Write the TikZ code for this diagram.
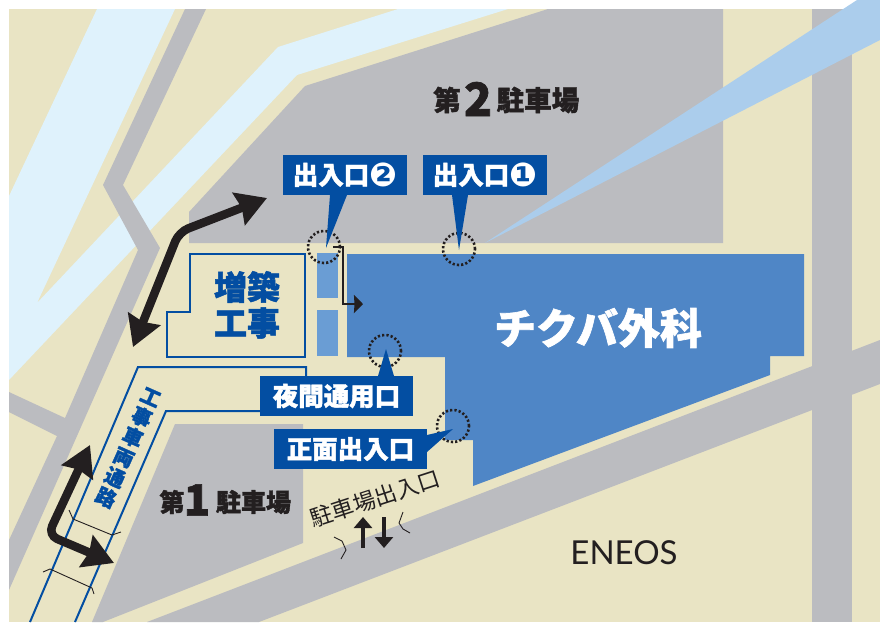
\documentclass[tikz,border=0pt]{standalone}
\usepackage{fontspec}
\usetikzlibrary{arrows.meta}
\newfontfamily\jp{Noto Sans CJK JP}[BoldFeatures={FakeBold=1.5}]
\newfontfamily\djv{DejaVu Sans}
\newfontfamily\latof{Lato}
\newcommand{\fsz}[1]{\fontsize{#1}{#1}\selectfont}
\definecolor{beige}{HTML}{E9E4C4}
\definecolor{water}{HTML}{DFF2FC}
\definecolor{roadg}{HTML}{BBBCC0}
\definecolor{stream}{HTML}{ABCDEC}
\definecolor{bldg}{HTML}{4F86C6}
\definecolor{annex}{HTML}{6A9DD4}
\definecolor{navy}{HTML}{034EA2}
\definecolor{ink}{HTML}{231F20}
\tikzset{
  area/.style={fill=#1,draw=none},
  tag/.style={fill=navy,text=white,inner sep=0pt,minimum height=40pt,font=\jp\bfseries\fsz{25.5}},
  tagtail/.style={fill=navy,draw=none},
  spot/.style={circle,draw=ink,line width=2.6pt,dash pattern=on 2.2pt off 2.1pt,minimum size=32pt,inner sep=0pt},
  bigarrow/.style={draw=ink,line width=8.5pt,rounded corners=10pt,{Stealth[length=30pt,width=34pt,inset=3pt]}-{Stealth[length=30pt,width=34pt,inset=3pt]}},
  outlinebox/.style={draw=navy,line width=2pt},
  thinmark/.style={draw=ink,line width=0.9pt},
  lbl/.style={inner sep=0pt,text=ink,font=\jp\bfseries\fsz{25}}
}
\begin{document}
\begin{tikzpicture}[x=1pt,y=-1pt]
\useasboundingbox (0,0) rectangle (880,622);
\fill[white] (0,0) rectangle (880,622);
\fill[beige] (9,9) rectangle (880,622);
% water
\fill[area=water] (97,9) -- (9,196) -- (9,380) -- (297,75) -- (508,9) -- (398,9) -- (278,47) -- (37,303) -- (175,9) -- cycle;
% lot 2
\fill[area=roadg] (189,212) -- (305,86) -- (548,9) -- (723,9) -- (723,243) -- (189,243) -- cycle;
% left road
\fill[area=roadg] (185,9) -- (206,9) -- (123,185) -- (160,248) -- (9,590) -- (9,540) -- (57,436) -- (9,412) -- (9,392) -- (65,418) -- (138,250) -- (103,185) -- cycle;
% lot 1
\fill[area=roadg] (175,424) -- (303,424) -- (303,543) -- (103,622) -- (92,622) -- cycle;
% diagonal road, vertical road
\fill[area=roadg] (147,622) -- (880,340) -- (880,384) -- (259,622) -- cycle;
\fill[area=roadg] (812,9) rectangle (852,622);
% stream
\fill[area=stream] (485,243) -- (857,0) -- (880,0) -- (880,40) -- cycle;
% building
\fill[area=bldg] (347,254) -- (804,254) -- (804,356) -- (770,356) -- (770,375) -- (473,486) -- (473,440) -- (445,440) -- (445,357) -- (347,357) -- cycle;
\fill[area=annex] (317,253) rectangle (338,298);
\fill[area=annex] (317,310) rectangle (338,356);
% extension outline
\draw[outlinebox] (190,254) -- (305,254) -- (305,357) -- (167,357) -- (167,312) -- (190,312) -- cycle;
% construction road
\draw[outlinebox] (30,622) -- (138,367) -- (306,367) -- (306,411) -- (166,411) -- (75,622);
% bridge marks
\draw[thinmark] (69,510) -- (73,519) -- (112,535) -- (121,532);
\draw[thinmark] (43,572) -- (50,569) -- (92,588) -- (94,594);
% big arrows
\coordinate (a1) at (267,198); \coordinate (k1) at (179,232); \coordinate (b1) at (133,347);
\draw[bigarrow] (b1) -- (k1) -- (a1);
\coordinate (a2) at (90,445); \coordinate (k2) at (48,535); \coordinate (b2) at (114,563);
\draw[bigarrow] (a2) -- (k2) -- (b2);
% small arrow
\coordinate (s1) at (333,247); \coordinate (s2) at (343,247); \coordinate (s3) at (343,304); \coordinate (s4) at (363,304);
\draw[draw=ink,line width=2.6pt,-{Stealth[length=9pt,width=18pt,inset=0.5pt]}] (s1) -- (s2) -- (s3) -- (s4);
% spots
\node[spot] (c2) at (324,247) {};
\node[spot] (c1) at (459,249) {};
\node[spot] (cn) at (385,351) {};
\node[spot] (cf) at (453,426) {};
% tags
\fill[tagtail] (330,195) -- (347,195) -- (326,248) -- cycle;
\node[tag,minimum width=124pt] (t2) at (345,175) {出入口\raisebox{-2.2pt}{\djv\fsz{33}❷}};
\fill[tagtail] (452,195) -- (468,195) -- (459,250) -- cycle;
\node[tag,minimum width=124pt] (t1) at (485,175) {出入口\raisebox{-2.2pt}{\djv\fsz{33}❶}};
\fill[tagtail] (378,376) -- (394,376) -- (386,349) -- cycle;
\node[tag,minimum width=153pt] (tn) at (336.5,396) {夜間通用口};
\fill[tagtail] (427,435) -- (427,452) -- (453,429) -- cycle;
\node[tag,minimum width=153pt] (tf) at (350.5,449) {正面出入口};
% labels
\node[lbl,text=navy,font=\jp\bfseries\fsz{33}] (z1) at (247,287) {増築};
\node[lbl,text=navy,font=\jp\bfseries\fsz{33}] (z2) at (247,323) {工事};
\node[lbl,text=navy,rotate=-24,align=center,font=\jp\bfseries\fontsize{20}{22}\selectfont] (road) at (128,448) {工\\事\\車\\両\\通\\路};
\node[lbl,text=white,font=\jp\bfseries\fsz{42}] (hosp) at (598,328) {チクバ外科};
% parking 2
\node[lbl,font=\jp\bfseries\fsz{27.5}] (p2a) at (447,100) {第};
\node[lbl,font=\jp\bfseries\fsz{46}] (p2b) at (478,99) {2};
\node[lbl,font=\jp\bfseries\fsz{27.5}] (p2c) at (538,100) {駐車場};
% parking 1
\node[lbl,font=\jp\bfseries\fsz{25}] (p1a) at (172,502) {第};
\node[lbl,font=\jp\bfseries\fsz{43}] (p1b) at (197,500) {1};
\node[lbl,font=\jp\bfseries\fsz{25}] (p1c) at (253.5,502) {駐車場};
% exit
\node[lbl,rotate=18,font=\jp\fsz{22.5}] (ex) at (375,498) {駐車場出入口};
\coordinate (u1) at (363,548); \coordinate (u2) at (363,517);
\coordinate (d1) at (384,517); \coordinate (d2) at (384,548);
\draw[draw=ink,line width=4.5pt,-{Triangle[length=11pt,width=18pt]}] (u1) -- (u2);
\draw[draw=ink,line width=4.5pt,-{Triangle[length=11pt,width=18pt]}] (d1) -- (d2);
\draw[thinmark] (403,512) -- (399,523) -- (403,529) -- (410,533);
\draw[thinmark] (334,537) -- (342,541) -- (346,550) -- (341,559);
\node[lbl,font=\latof\fsz{33}] (en) at (624,553) {ENEOS};
\end{tikzpicture}
\end{document}
